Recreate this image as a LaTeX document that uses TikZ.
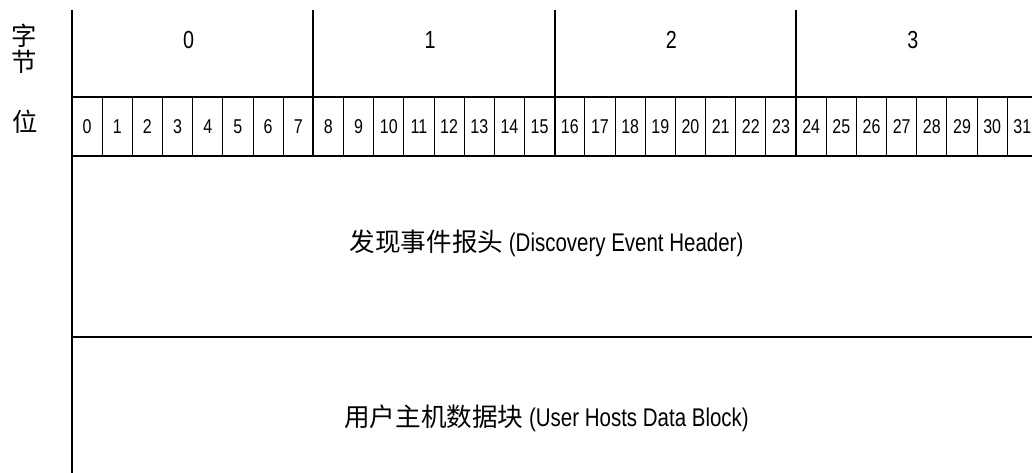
\documentclass[tikz,border=0pt]{standalone}
\usepackage{fontspec}
\setmainfont{Liberation Sans}[FakeStretch=0.8]
\newfontfamily\cond{Liberation Sans}[FakeStretch=0.8]
\newfontfamily\cjk{Noto Sans CJK SC}
\begin{document}
\begin{tikzpicture}[x=0.75pt,y=-0.75pt,
  thickline/.style={line width=1.3pt},
  thinline/.style={line width=0.75pt},
  bytelbl/.style={inner sep=0pt,font=\cond\fontsize{18.5}{20}\selectfont},
  bitlbl/.style={inner sep=0pt,font=\cond\fontsize{15}{17}\selectfont},
  sidelbl/.style={inner sep=0pt,text height=0.85em,text depth=0.1em,font=\cjk\fontsize{19}{21}\selectfont},
  mainlbl/.style={inner sep=0pt,font=\fontsize{19.2}{22}\selectfont}]
\useasboundingbox (0,0) rectangle (1032,473);
\def\bw{30.17}
\begin{scope}
\clip (0,0) rectangle (1032,473);
% bit dividers
\foreach \i in {1,...,31}{
  \draw[thinline] ({72+\i*\bw},97) -- ({72+\i*\bw},156);
}
% byte dividers
\foreach \i in {1,2,3}{
  \draw[thickline] ({72+\i*8*\bw},10) -- ({72+\i*8*\bw},156);
}
% horizontals
\draw[thickline] (72,97) -- (1032,97);
\draw[thickline] (72,156) -- (1032,156);
\draw[thickline] (72,337) -- (1032,337);
% main vertical
\draw[thickline] (72,10) -- (72,473);
% bit labels
\foreach \i in {0,...,31}{
  \node[bitlbl] (bit\i) at ({72+(\i+0.5)*\bw},126.5) {\i};
}
\end{scope}
% byte labels
\foreach \i in {0,1,2,3}{
  \node[bytelbl] (byte\i) at ({72+(\i*8+4)*\bw-4},40) {\i};
}
% side labels
\node[sidelbl] (zi) at (24.5,40.5) {字};
\node[sidelbl] (jie) at (24.5,67) {节};
\node[sidelbl] (wei) at (25,126.5) {位};
% block labels
\node[mainlbl] (hdr) at (546.5,243) {{\cjk 发现事件报头} (Discovery Event Header)};
\node[mainlbl] (blk) at (546.5,418) {{\cjk 用户主机数据块} (User Hosts Data Block)};
\end{tikzpicture}
\end{document}
